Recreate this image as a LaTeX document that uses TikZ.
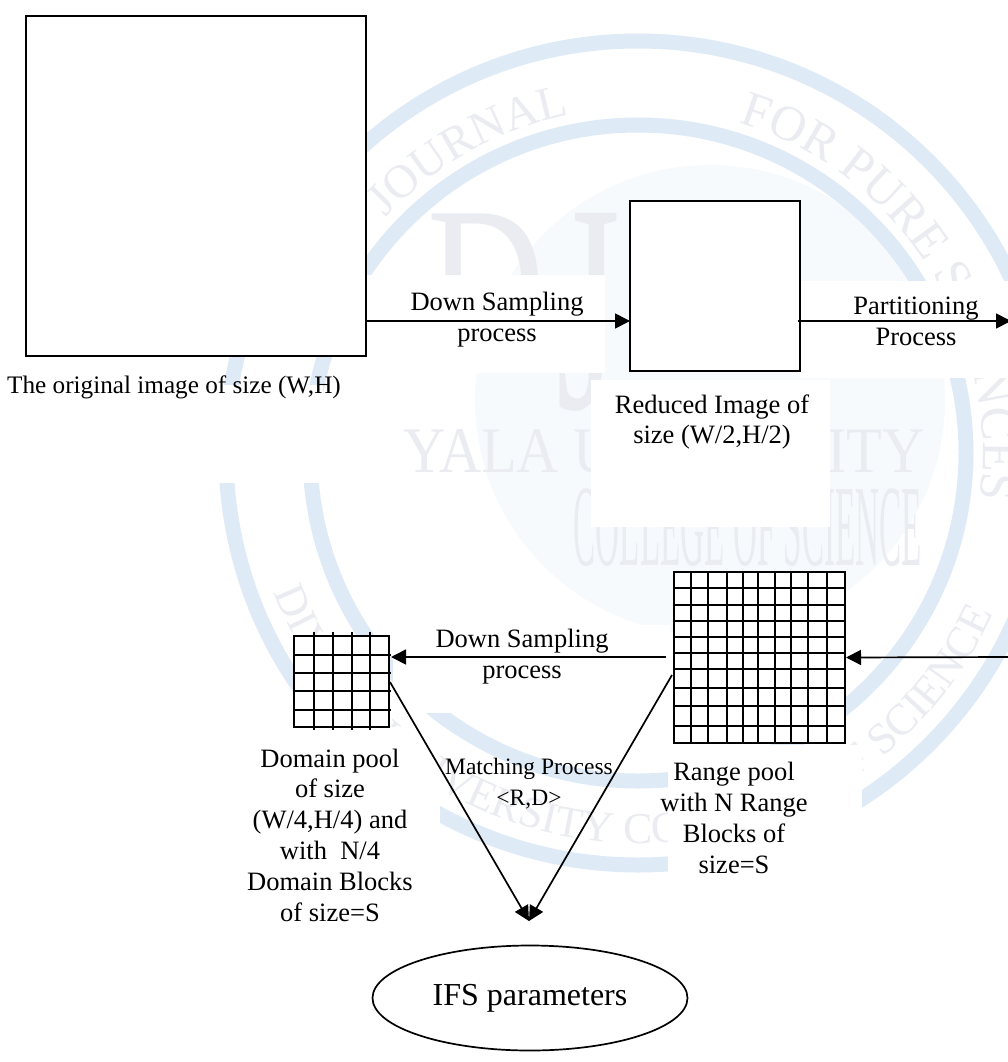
\documentclass[tikz,border=0pt]{standalone}
\usepackage{fontspec}
\setmainfont{Liberation Serif}
\usepackage{xcolor}
\usepackage{tikz}
\usetikzlibrary{arrows.meta, shapes.geometric, positioning, decorations.text}
\definecolor{ringblue}{HTML}{DFEAF7}
\definecolor{markgray}{HTML}{EAECF1}
\definecolor{blobblue}{HTML}{F7FAFD}
\tikzstyle{arrow} = [line width=1.7pt,-{Triangle[length=15pt,width=15pt]}]
\tikzstyle{imagebox} = [rectangle, draw=black, line width=2pt, fill=white, inner sep=0pt]
\tikzstyle{gridline} = [line width=1.8pt]
\tikzstyle{caption} = [align=center, font=\fontsize{26.5}{30.8}\selectfont]
\tikzstyle{patch} = [fill=white, draw=none]
\tikzstyle{ring} = [draw=ringblue, line width=15pt]
\tikzstyle{marktext} = [text=markgray, inner sep=0pt, font=\fontsize{65}{65}\selectfont]

\begin{document}
\begin{tikzpicture}[x=1pt, y=-1pt]
\useasboundingbox (0,0) rectangle (1008,1062);
\fill [white] (0,0) rectangle (1008,1062);

% Watermark
\begin{scope}
\clip (0,0) rectangle (1008,1062);
\fill [blobblue] (710,400) circle [radius=235];
\node [marktext, font=\fontsize{230}{230}\selectfont, xscale=0.71] at (486,289) {D};
\node [marktext, font=\fontsize{298}{298}\selectfont, xscale=0.55] at (588,312) {J};
\node [marktext, xscale=0.9] at (664,451) {YALA UNIVERSITY};
\node [marktext, font=\fontsize{116}{116}\selectfont, xscale=0.286] at (748,528) {COLLEGE OF SCIENCE};
\begin{scope}[shift={(638,453)}, y=1pt]
\draw [ring] (0,0) circle [radius=412];
\draw [ring] (0,0) circle [radius=328];
\path [decorate, decoration={text along path, text={|\fontsize{47}{47}\selectfont\color{markgray}|JOURNAL}}] (137:345) arc (137:90:345);
\path [decorate, decoration={text along path, text={|\fontsize{50}{50}\selectfont\color{markgray}|FOR PURE SCIENCES}}] (73:345) arc (73:-30:345);
\path [decorate, decoration={text along path, text={|\fontsize{44}{44}\selectfont\color{markgray}|DIYALA UNIVERSITY COLLEGE OF SCIENCE}}] (201:390) arc (201:350:390);
\end{scope}
\end{scope}

% White patches over the watermark
\fill [patch] (0,385) rectangle (323,483);
\fill [patch] (366,275) rectangle (605,373);
\fill [patch] (800,281) rectangle (1008,378);
\fill [patch] (591,380) rectangle (830,527);
\fill [patch] (393,625) rectangle (670,713);
\fill [patch] (240,727) rectangle (440,930);
\fill [patch] (668,745) rectangle (862,930);

% Main Components
\node (original) [imagebox, minimum width=340pt, minimum height=340pt] at (196,186) {};
\node (reduced) [imagebox, minimum width=170pt, minimum height=170pt] at (715,285.5) {};
\node (rangepool) [imagebox, minimum width=171pt, minimum height=171pt] at (759.5,657.5) {};
\node (domainpool) [imagebox, minimum width=95pt, minimum height=91pt] at (341.5,681.5) {};
\node (ifs) [ellipse, draw=black, line width=1.7pt, minimum width=315pt, minimum height=105pt, inner sep=0pt, font=\fontsize{32}{36}\selectfont] at (530,998) {IFS parameters};

% Grids
\foreach \x in {691,708,727,743,758,775,791,808,827}
  \draw [gridline] (\x,572) -- (\x,743);
\foreach \y in {588,605,621,637,653,669,688,706,726}
  \draw [gridline] (674,\y) -- (845,\y);
\foreach \x in {314,333,352,370}
  \draw [gridline] (\x,632) -- (\x,730);
\foreach \y in {655,673,691,710}
  \draw [gridline] (294,\y) -- (391,\y);

% Captions
\node (originaltext) [caption, font=\fontsize{25.2}{30}\selectfont] at (174,387) {The original image of size (W,H)};
\node (reducedtext) [caption] at (712,422) {Reduced Image of\\size (W/2,H/2)};
\node (rangetext) [caption] at (734,818) {Range pool\\with N Range\\Blocks of\\size=S};
\node (domaintext) [caption] at (330,835) {Domain pool\\of size\\(W/4,H/4) and\\with~~N/4\\Domain Blocks\\of size=S};
\node (downtop) [caption] at (497,320) {Down Sampling\\process};
\node (partition) [caption] at (916,321) {Partitioning\\Process};
\node (downlow) [caption] at (522,657) {Down Sampling\\process};
\node (matching) [caption, font=\fontsize{23.5}{31}\selectfont] at (529,784) {Matching Process\\<R,D>};

% Connection points
\coordinate (reducedin) at (630,321);
\coordinate (reducedout) at (798,321);
\coordinate (pageright) at (1011,321);
\coordinate (pageleft) at (1008,657);
\coordinate (rangeleft) at (666,657);
\coordinate (domainright) at (391,657);
\coordinate (domainlow) at (390,682);
\coordinate (rangelow) at (672,675);
\coordinate (ifstop) at (529,921);

% Connections
\draw [arrow] (original.east |- reducedin) -- (reducedin);
\draw [arrow] (reducedout) -- (pageright);
\draw [arrow] (pageleft) -- (rangepool.east);
\draw [arrow] (rangeleft) -- (domainright);
\draw [arrow] (domainlow) -- (ifstop);
\draw [arrow] (rangelow) -- (ifstop);

\end{tikzpicture}
\end{document}
